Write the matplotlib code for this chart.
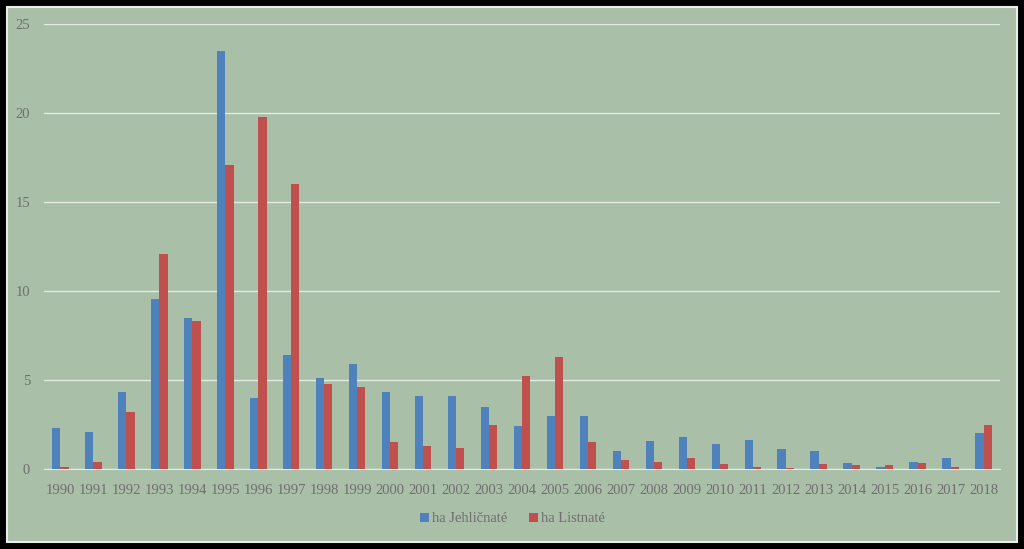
import numpy as np
import matplotlib.pyplot as plt
from matplotlib.patches import Rectangle

years = [str(y) for y in range(1990, 2019)]
jehlicnate = [2.3, 2.1, 4.3, 9.55, 8.5, 23.5, 4.0, 6.4, 5.1, 5.9,
              4.3, 4.1, 4.1, 3.5, 2.4, 3.0, 3.0, 1.0, 1.6, 1.8,
              1.4, 1.65, 1.1, 1.0, 0.35, 0.1, 0.4, 0.6, 2.0]
listnate = [0.1, 0.4, 3.2, 12.1, 8.3, 17.1, 19.8, 16.0, 4.8, 4.6,
            1.5, 1.3, 1.2, 2.5, 5.2, 6.3, 1.5, 0.5, 0.4, 0.6,
            0.3, 0.1, 0.05, 0.3, 0.2, 0.25, 0.35, 0.1, 2.5]

bg = "#a9bfa8"
txt = "#6f6f6f"
plt.rcParams["font.family"] = ["Liberation Serif", "DejaVu Serif"]

fig = plt.figure(figsize=(10.24, 5.49), dpi=100, facecolor="black")
panel = Rectangle((7 / 1024, 7 / 549), 1010 / 1024, 535 / 549,
                  transform=fig.transFigure, facecolor=bg,
                  edgecolor="#e8efe8", linewidth=1.5, zorder=-1)
fig.add_artist(panel)

ax = fig.add_axes([44 / 1024, 80 / 549, 956 / 1024, 445 / 549])
ax.set_zorder(1)
ax.set_facecolor("none")

x = np.arange(len(years))
w = 0.25
ax.bar(x - w / 2, jehlicnate, w, color="#4f81bd", label="ha Jehličnaté", zorder=3)
ax.bar(x + w / 2, listnate, w, color="#c0504d", label="ha Listnaté", zorder=3)

ax.set_xlim(-0.5, len(years) - 0.5)
ax.set_ylim(0, 25)
ax.set_yticks([0, 5, 10, 15, 20, 25])
ax.set_xticks(x)
ax.set_xticklabels(years)
ax.grid(axis="y", color="#e4ece3", linewidth=1, zorder=0)
for s in ["top", "right", "left"]:
    ax.spines[s].set_visible(False)
ax.spines["bottom"].set_color("#e4ece3")
ax.tick_params(axis="both", length=0, labelsize=10.5, colors=txt)
ax.tick_params(axis="x", pad=11)
ax.tick_params(axis="y", pad=10)

ax.legend(loc="upper center", bbox_to_anchor=(0.49, -0.068), ncol=2, frameon=False,
          fontsize=10.5, labelcolor=txt, handlelength=0.6, handleheight=0.6,
          handletextpad=0.2, columnspacing=1.5)

fig.savefig("out.png", dpi=100, facecolor="black")
